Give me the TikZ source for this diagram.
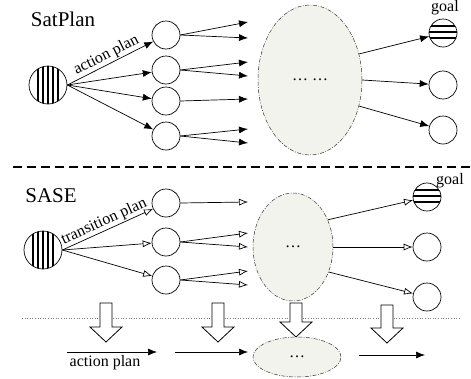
\documentclass[tikz,border=0pt]{standalone}
\usepackage{fontspec}
\setmainfont{Liberation Serif}
\usetikzlibrary{arrows.meta,shapes.geometric}
\definecolor{cloudfill}{HTML}{F2F3EC}
\def\blockarrow(#1,#2:#3){\draw[line width=0.8pt, fill=white] (#1-6,#2) -- (#1+6,#2) -- (#1+6,#3-15) -- (#1+16,#3-15) -- (#1,#3) -- (#1-16,#3-15) -- (#1-6,#3-15) -- cycle;}

\begin{document}
\begin{tikzpicture}[x=1pt, y=-1pt,
		state/.style={circle, draw, line width=0.7pt, minimum size=28pt, inner sep=0pt},
		vstripes/.style={path picture={\foreach \d in {-10,-5,0,5,10} \draw[line width=1.3pt] ([xshift=\d pt]path picture bounding box.north) -- ([xshift=\d pt]path picture bounding box.south);}},
		hstripes/.style={path picture={\foreach \d in {7,1,-5} \draw[line width=1.3pt] ([yshift=\d pt]path picture bounding box.west) -- ([yshift=\d pt]path picture bounding box.east);}},
		cloud/.style={ellipse, draw=black!80, line width=0.5pt, dash pattern=on 4pt off 1.5pt on 0.8pt off 1.5pt, fill=cloudfill, inner sep=0pt, font=\fontsize{16}{16}\selectfont},
		fwd/.style={-{Latex[length=9pt,width=7pt]}, line width=0.7pt},
		trans/.style={-{Latex[open,length=9pt,width=7pt]}, line width=0.7pt},
		title/.style={font=\fontsize{21}{21}\selectfont, anchor=base},
		lbl/.style={font=\fontsize{16}{16}\selectfont}]
		%%%%% START %%%%%
		\useasboundingbox (0,0) rectangle (471,378);
		
		% SatPlan
		\node[title] (satplan) at (63,26) {SatPlan};
		\node[state, minimum size=38pt, vstripes] (sat) at (48,85) {};
		\foreach \y [count=\i] in {35,70,101,136} \node[state] (a\i) at (166,\y) {};
		\foreach \y [count=\k] in {22,38,62,76,99,129,143} \coordinate (t\k) at (248,\y);
		\node[cloud, minimum width=104pt, minimum height=150pt] (mid) at (310,80) {\dots\ \dots};
		\node[state, hstripes] (goalA) at (443,33) {};
		\node[state] (b2) at (443,85) {};
		\node[state] (b3) at (443,130) {};
		\node[lbl, anchor=base] (goalAtxt) at (445,11) {goal};
		
		\draw[fwd] (sat.east) -- node[lbl, sloped, above, inner sep=1pt] {action plan} (a1);
		\foreach \i in {2,3,4} \draw[fwd] (sat.east) -- (a\i);
		\draw[fwd] (a1.east) -- (t1);
		\draw[fwd] (a1.east) -- (t2);
		\draw[fwd] (a2.east) -- (t3);
		\draw[fwd] (a2.east) -- (t4);
		\draw[fwd] (a3.east) -- (t5);
		\draw[fwd] (a4.east) -- (t6);
		\draw[fwd] (a4.east) -- (t7);
		\draw[fwd] (mid.28) -- (goalA);
		\draw[fwd] (mid.0) -- (b2);
		\draw[fwd] (mid.-28) -- (b3);
		
		\draw[line width=1.5pt, dash pattern=on 9pt off 5pt] (13,167) -- (471,167);
		
		% SASE
		\node[title] (sase) at (51,202) {SASE};
		\node[state, minimum size=38pt, vstripes] (init) at (43,250) {};
		\foreach \y [count=\i] in {203,242,280} \node[state] (c\i) at (166,\y) {};
		\foreach \y [count=\k] in {202,233,247,271,285} \coordinate (s\k) at (248,\y);
		\node[cloud, minimum width=80pt, minimum height=108pt] (mid2) at (293,247) {\dots};
		\node[state, hstripes] (goalB) at (427,197) {};
		\node[state] (d2) at (427,247) {};
		\node[state] (d3) at (427,297) {};
		\node[lbl, anchor=base] (goalBtxt) at (450,184) {goal};
		
		\draw[trans] (init.east) -- node[lbl, sloped, above, inner sep=1pt] {transition plan} (c1);
		\foreach \i in {2,3} \draw[trans] (init.east) -- (c\i);
		\draw[trans] (c1.east) -- (s1);
		\draw[trans] (c2.east) -- (s2);
		\draw[trans] (c2.east) -- (s3);
		\draw[trans] (c3.east) -- (s4);
		\draw[trans] (c3.east) -- (s5);
		\draw[trans] (mid2.38) -- (goalB);
		\draw[trans] (mid2.0) -- (d2);
		\draw[trans] (mid2.-35) -- (d3);
		
		\draw[gray, dotted, line width=0.6pt] (22,318) -- (460,318);
		
		\blockarrow(106,303:342)
		\blockarrow(218,303:342)
		\blockarrow(296,303:337)
		\blockarrow(387,305:343)
		
		% action plan row
		\coordinate (p1) at (67,352);
		\coordinate (p2) at (157,352);
		\coordinate (p3) at (175,352);
		\coordinate (p4) at (248,352);
		\coordinate (p5) at (359,355);
		\coordinate (p6) at (425,355);
		\node[cloud, minimum width=88pt, minimum height=40pt] (mid3) at (297,357) {\dots};
		\draw[fwd] (p1) -- node[lbl, below, xshift=-7pt] {action plan} (p2);
		\draw[fwd] (p3) -- (p4);
		\draw[fwd] (p5) -- (p6);
		
		%%%%% END %%%%%
\end{tikzpicture}
\end{document}
